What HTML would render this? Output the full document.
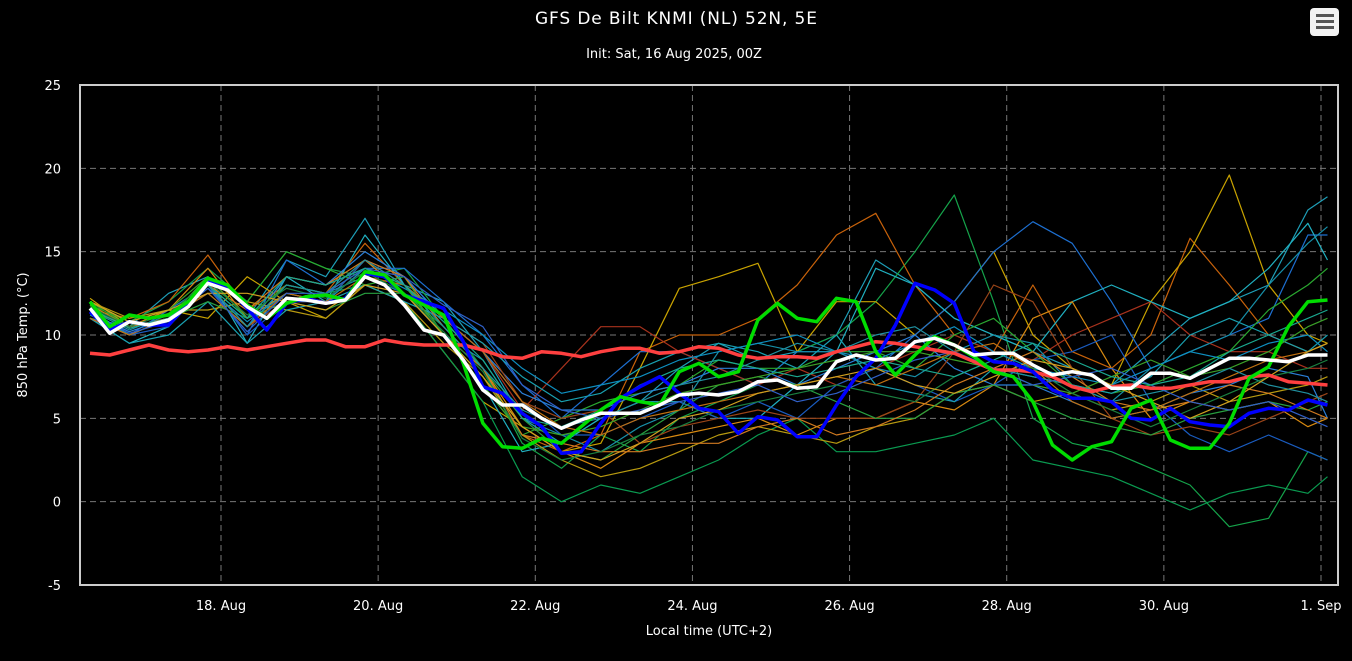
<!DOCTYPE html>
<html><head><meta charset="utf-8">
<style>
html,body{margin:0;padding:0;background:#000;width:1352px;height:661px;overflow:hidden;font-family:"Liberation Sans",sans-serif;}
svg{display:block}
</style></head>
<body>
<svg id="chart" width="1352" height="661" xmlns="http://www.w3.org/2000/svg">
<text x="676" y="24" fill="#fff" font-size="17" text-anchor="middle" font-family="DejaVu Sans, sans-serif" textLength="282">GFS De Bilt KNMI (NL) 52N, 5E</text>
<text x="674" y="58" fill="#fff" font-size="13" text-anchor="middle" font-family="DejaVu Sans, sans-serif">Init: Sat, 16 Aug 2025, 00Z</text>
<g>
<rect x="1310" y="8" width="29" height="28" rx="4" fill="#f2f2f2"/>
<rect x="1316" y="14" width="18" height="3" fill="#555"/><rect x="1316" y="20" width="18" height="3" fill="#555"/><rect x="1316" y="26" width="18" height="3" fill="#555"/>
</g>
<g id="grid"></g>
<g id="members"></g>
<g id="mains"></g>
<rect x="80" y="85" width="1258" height="500" fill="none" stroke="#ccc" stroke-width="2"/>
<g id="axes"></g>
<text transform="translate(27,335) rotate(-90)" fill="#fff" font-size="13" text-anchor="middle" font-family="DejaVu Sans, sans-serif">850 hPa Temp. (°C)</text>
<text x="709" y="635" fill="#fff" font-size="13" text-anchor="middle" font-family="DejaVu Sans, sans-serif">Local time (UTC+2)</text>
</svg>
<script>
const yTicks=[-5,0,5,10,15,20,25];
const xTickLabels=["18. Aug","20. Aug","22. Aug","24. Aug","26. Aug","28. Aug","30. Aug","1. Sep"];
const xTickDays=[2,4,6,8,10,12,14,16];
const startHour=8;
const meanSeries=[11.6,10.1,10.8,10.6,10.9,11.7,13.1,12.7,11.7,11.0,12.2,12.1,11.9,12.1,13.5,13.0,11.8,10.3,10.0,8.5,6.7,5.8,5.8,5.0,4.4,4.9,5.3,5.3,5.3,5.8,6.4,6.5,6.4,6.6,7.2,7.3,6.8,6.9,8.4,8.8,8.5,8.6,9.6,9.8,9.4,8.8,8.9,8.9,8.2,7.6,7.8,7.6,6.8,6.8,7.7,7.7,7.4,8.0,8.6,8.6,8.5,8.4,8.8,8.8];
const climSeries=[8.9,8.8,9.1,9.4,9.1,9.0,9.1,9.3,9.1,9.3,9.5,9.7,9.7,9.3,9.3,9.7,9.5,9.4,9.4,9.4,9.1,8.7,8.6,9.0,8.9,8.7,9.0,9.2,9.2,8.9,9.0,9.3,9.2,8.8,8.6,8.7,8.7,8.6,9.0,9.3,9.6,9.5,9.3,9.1,8.9,8.4,7.9,7.9,7.8,7.5,6.9,6.6,6.9,7.0,6.8,6.8,7.0,7.2,7.2,7.5,7.6,7.2,7.1,7.0];
const controlSeries=[12.0,10.5,11.2,11.0,11.2,12.0,13.4,13.0,11.8,11.0,11.9,12.3,12.4,12.1,13.8,13.6,12.4,11.8,11.2,8.3,4.7,3.3,3.2,3.8,3.5,4.5,5.5,6.3,6.0,5.8,7.8,8.3,7.5,7.8,10.9,11.9,11.0,10.8,12.2,12.0,9.0,7.6,8.8,9.9,9.4,8.7,7.8,7.5,6.0,3.4,2.5,3.3,3.6,5.6,6.1,3.7,3.2,3.2,4.7,7.4,8.1,10.5,12.0,12.1];
const operSeries=[11.4,10.3,10.8,10.6,10.6,11.9,13.3,12.8,11.6,10.3,11.9,12.2,11.9,12.2,13.7,13.5,12.4,12.0,11.6,9.6,6.9,6.5,5.3,4.5,2.9,3.0,4.7,6.2,6.9,7.5,6.5,5.6,5.4,4.1,5.1,4.9,3.9,3.9,5.8,7.5,8.6,10.6,13.1,12.7,11.9,9.0,8.4,8.3,7.8,6.7,6.2,6.2,6.0,5.0,4.9,5.6,4.8,4.6,4.5,5.3,5.6,5.5,6.1,5.8];
const memberColors=["#1e9fb8","#15a34a","#c8620a","#c9a300","#1d6fd0","#a8321d","#20b0c0","#0a9a50","#d98a10","#1a5cc0","#178fa8","#b89a10","#2aa830","#2a7fd8","#9a4418","#19a0b0","#28a040","#d07a20","#0e8fc0","#3aa028","#c07010","#2090a0","#1a8040","#d0a020","#3060c8","#1aa890"];
const m1=[11,10.5,12.5,13.5,11,14.5,13.5,17,13,12,9,5,3.5,5,6,8,9.5,8.5,9,10,14.5,13,11,10,9,8,7,9,11,12,13,17.5,18.3];
const m2=[12,10.8,12,14,12,15,14,13.5,14,11,8,3.5,2,4,3,5,6,7,9,10,12,15,18.4,12,5,3.5,3,2,1,-1.5,-1,3,2.5];
const m3=[11.5,11,12,14.8,11.5,13,12.5,15.5,13,10,7,4,3,4,9,10,10,11,13,16,17.3,13,10,9,13,9,8,10,15.8,13,10,9,9.5];
const m4=[12.2,10.5,11.5,11,13.5,12,11,13,12,9,6,4.5,3,3.5,8,12.8,13.5,14.3,9,12,12,10,12,15,10,8,7,12,15,19.6,13,10,9.5];
const m5=[11,10,11.5,13,10,14.5,13,14,14,12,10,7,5,7,9,9,8,7,9,9,8,10,12,15,16.8,15.5,12,8,9,10,11,16,16];
const m6=[11.5,10.5,11,13.5,11,12,12,14,13,11,9,5.5,8,10.5,10.5,9,8,7,8,7,8,9,10,9,8.5,10,11,12,10,9,9,8,8];
const m7=[11,9.5,10.5,13.5,9.5,13.5,12,16,13,10,7,3,3.5,5,6,6,5,5,7,9,14,13,11,10,9,12,13,12,11,12,14,16.7,14.5];
const m8=[11.5,10,11,13,11,13,12.5,13,12,9,6,1.5,0,1,0.5,1.5,2.5,4,5,3,3,3.5,4,5,2.5,2,1.5,0.5,-0.5,0.5,1,0.5,1.5];
const m9=[11.8,10.5,11.5,14,11,12.5,12,14.5,12.5,10,8,4.5,3,2,3.5,4,4.5,5,4,5,5,6,5.5,7,11,12,8,5,6,5.5,6,4.5,5];
const m10=[11,10,10.5,13,10,12,12,14.5,13.5,11,9,6,4,4,5,6,5,6,5,7,8,7,6,7,8.5,9,10,6,4,3,4,3,2.5];
const m11=[11.5,10,11,12.5,10.5,12,12.5,13.5,12.5,10,8.5,5,4,3,4.5,5.5,9,9.5,9,9,8,7.5,9,10,9.5,7,6,8,9,10,13,15.5,16.5];
const m12=[12,11,11.5,11.5,12,11.5,11,13,12,9.5,7.5,4,2.5,1.5,2,3,4,4.5,4,3.5,4.5,5,6.5,7,6,6.5,5.5,6,7,6,6.5,7,7.5];
const m13=[12,10.5,11,13.5,12,15,14,13,13.5,10,7,4,5,6,6.5,7,8.5,8,8,9,9,8,10,11,9,7,6.5,7,8,9,11.5,13,14];
const m14=[11.3,10.2,11,13,10.5,13.5,13,15,13.5,11,9,6.5,5.5,5.5,6.5,7,8,8,7,8,9,10,8,7,7,6,5,5.5,6.5,7,8,7.5,5];
const m15=[11,10,11,13,10.5,12,12.5,14.5,13,11,9.5,6,5,5.5,3.5,4.5,5,5.5,5,5,5,6,9,13,12,8,5,4,4.5,4,5,6,6.5];
const m16=[11,9.5,10,12,9.5,11.5,12,13,12,11,9.5,7.5,6,6.5,8,9,9.5,9,8,10,7,6.5,6,8,7.5,7,6.5,7.5,10,11,10,9,10];
const m17=[11.5,10.5,11,12,11,12,11.5,12.5,12.5,10.5,8,5,3,2.5,4,5.5,7,7.5,7,6,5,5,6.5,7,6,5,4.5,4,5,5.5,6,5.5,6];
const m18=[11.5,10.5,11,13,11.5,13.5,13,14.5,13.5,10.5,8,4,3.5,3,3,3.5,3.5,4.5,5,4,4.5,5.5,7,8,9,7.5,6,5.5,6,7,6.5,5.5,5];
const m19=[11.2,10,11,12.8,10.8,12.5,12,14,12.8,11.5,10,8,6.5,7,7.5,8.5,9,9.5,10,9,8.5,9.5,10.5,9,8,7.5,7,8,9,8.5,9.5,10,9];
const m20=[11.8,10.8,11.5,13.5,11,13,12.5,14,13,10,7.5,4.5,4,4.5,5.5,6.5,7,7.5,8,8.5,9,9,8.5,8,7,6.5,7.5,8.5,7.5,8,9,10.5,11];
const m21=[11,10,11,12.5,10.5,12.5,12,13.5,13,11,9,6,4.5,4,5,5.5,6,6.5,7,7.5,7,8,9,9.5,8,6,5,5.5,6.5,7.5,8.5,9,9.5];
const m22=[11.5,10.3,11.2,13,10.5,13,12.5,14.5,13,10.5,8,5.5,4.5,5,6,7,7.5,8.5,9.5,9,10,10.5,9,8,7.5,7,6,6.5,7,8,7,6.5,6];
const m23=[11.7,10.5,11.3,13.2,11.2,12.8,12.2,13.8,12.5,10.2,7.8,3.8,2.5,3,4,4.5,5.5,6,6.5,7,6.5,6,7.5,8.5,8,6.5,5.5,4.5,5.5,6.5,7.5,8,8.5];
const m24=[12,10.8,11.5,12.5,12.5,12,11.5,13,12.5,10,7.5,4.5,3,2.5,3.5,5,5.5,6.5,7,7.5,8,7,6.5,7.5,8.5,8,7,6,5,6,7.5,9,9.5];
const m25=[11.3,10.1,10.8,12.8,10.2,12.5,12.5,14,13.5,11.8,10.5,7,5.5,5,5.5,6,6.5,7,6,6.5,7.5,8.5,9,8,7,7.5,8,7,6,5.5,6,5,4.5];
const m26=[11.6,10.4,11,13,11,13.5,13,14,13,10.8,8.5,5,4.5,5.5,7,8,8.5,8,7.5,8,8.5,8,7.5,8.5,9.5,8.5,7.5,7,7.5,9,10,11,11.5];
const members=[m1,m2,m3,m4,m5,m6,m7,m8,m9,m10,m11,m12,m13,m14,m15,m16,m17,m18,m19,m20,m21,m22,m23,m24,m25,m26];

const NS="http://www.w3.org/2000/svg";
const X0=80,X1=1338,Y0=85,Y1=585;
const dayPx=(1321-221)/14;
function xScale(h){return 221+(h/24-2)*dayPx;}
function yScale(v){return Y1-(v+5)/30*(Y1-Y0);}
function mk(tag,attrs,parent){const e=document.createElementNS(NS,tag);for(const k in attrs)e.setAttribute(k,attrs[k]);parent.appendChild(e);return e;}
const grid=document.getElementById('grid'),axes=document.getElementById('axes');
yTicks.forEach(v=>{
  const y=yScale(v);
  if(v>-5&&v<25){const l=mk('line',{x1:X0,x2:X1,y1:y,y2:y,stroke:'#777','stroke-dasharray':'6,4','stroke-width':1},grid);
  
  }
  const t=mk('text',{x:61,y:y+5,fill:'#fff','font-size':13,'text-anchor':'end','font-family':'DejaVu Sans, sans-serif'},axes);
  t.textContent=v;
  
  
});
xTickDays.forEach((d,i)=>{
  const x=xScale(d*24);
  const l=mk('line',{x1:x,x2:x,y1:Y0,y2:Y1,stroke:'#777','stroke-dasharray':'6,4','stroke-width':1},grid);
  
  
  const t=mk('text',{x:x,y:610,fill:'#fff','font-size':13,'text-anchor':'middle','font-family':'DejaVu Sans, sans-serif'},axes);
  t.textContent=xTickLabels[i];
  
  
});
function path(vals,hourFn){return vals.map((v,i)=>(i?'L':'M')+xScale(hourFn(i)).toFixed(1)+','+yScale(v).toFixed(1)).join('');}
const memG=document.getElementById('members');
members.forEach((m,k)=>{
  const p=mk('path',{d:path(m,i=>startHour+(i<32?i*12:378)),fill:'none',stroke:memberColors[k],'stroke-width':1.2,'stroke-linejoin':'round'},memG);
  
  
});
const mainG=document.getElementById('mains');
[[climSeries,'#ff4040','climatology-line'],[operSeries,'#0000ff','operational-line'],[controlSeries,'#00dd00','control-line'],[meanSeries,'#ffffff','ensemble-mean-line']].forEach(s=>{
  const p=mk('path',{d:path(s[0],i=>startHour+i*6),fill:'none',stroke:s[1],'stroke-width':3.5,'stroke-linejoin':'round'},mainG);
  
  
});
</script>
</body></html>
